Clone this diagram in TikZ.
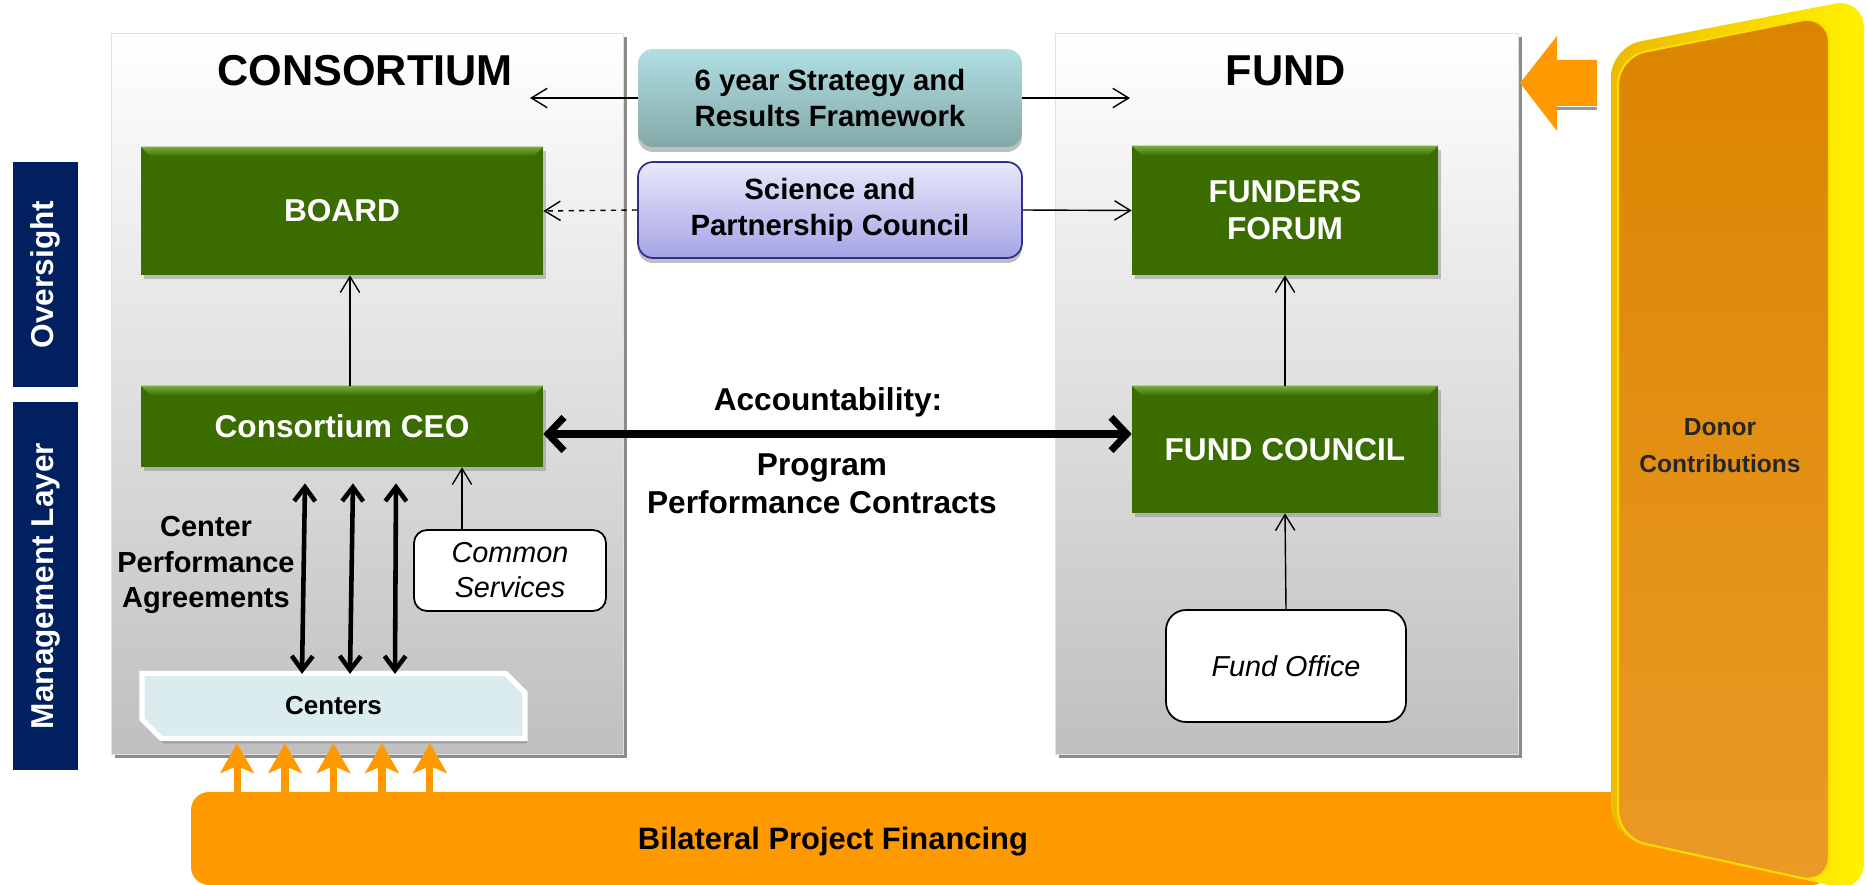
\documentclass[tikz,border=0pt]{standalone}
\usepackage{fontspec}
\setmainfont{Liberation Sans}
\usetikzlibrary{arrows.meta,shapes.misc,shadows}

\definecolor{boardgreen}{RGB}{58,108,0}
\definecolor{bevelgreen}{RGB}{122,172,62}
\definecolor{navyband}{RGB}{0,32,96}
\definecolor{flow}{RGB}{255,153,0}
\definecolor{stratTop}{RGB}{176,223,227}
\definecolor{stratBot}{RGB}{132,168,168}
\definecolor{sciTop}{RGB}{232,232,250}
\definecolor{sciBot}{RGB}{166,164,230}
\definecolor{sciLine}{RGB}{46,49,146}
\definecolor{centerfill}{RGB}{218,236,238}
\definecolor{faceTop}{RGB}{219,132,0}
\definecolor{faceBot}{RGB}{234,154,38}
\definecolor{rimgold}{RGB}{236,186,0}
\definecolor{rimyellow}{RGB}{255,242,0}

\tikzset{
  greenbox/.style={rectangle,fill=boardgreen,text=white,align=center,inner sep=0pt,
    font=\bfseries\fontsize{18}{21}\selectfont,
    drop shadow={shadow xshift=0.06cm,shadow yshift=-0.08cm,opacity=0.45}},
  band/.style={rectangle,fill=navyband,text=white,rotate=90,inner sep=0pt,
    minimum height=1.3cm,font=\bfseries\fontsize{18}{21}\selectfont},
  roundbox/.style={rectangle,rounded corners=0.3cm,align=center,inner sep=0pt,
    minimum width=7.68cm,font=\bfseries\fontsize{16.7}{20.5}\selectfont,
    drop shadow={shadow xshift=0cm,shadow yshift=-0.1cm,opacity=0.5}},
  italbox/.style={rectangle,draw=black,line width=1pt,fill=white,align=center,
    inner sep=0pt,font=\itshape\fontsize{16.4}{20}\selectfont},
  title/.style={font=\bfseries\fontsize{24.6}{28}\selectfont},
  plaintext/.style={align=center,inner sep=0pt,font=\bfseries\fontsize{18}{21.6}\selectfont},
  panelbox/.style={top color=white,middle color=black!5,bottom color=black!25,draw=black!12},
  thinarr/.style={-{Straight Barb[length=9pt,width=11pt]},line width=0.8pt},
  thickarr/.style={{Straight Barb[length=9pt,width=19pt]}-{Straight Barb[length=9pt,width=19pt]},
    line width=4pt},
  dblarr/.style={{Straight Barb[length=8pt,width=12pt]}-{Straight Barb[length=8pt,width=12pt]},
    line width=2.6pt},
  feedarr/.style={-{Stealth[length=17pt,width=19pt,inset=4pt]},draw=flow,line width=4pt},
}

\begin{document}
\begin{tikzpicture}[x=0.02cm,y=-0.02cm]
  \useasboundingbox (0,0) rectangle (1867,885);

  \fill[black!45] (115,37) rectangle (627,758);
  \shade[panelbox] (111,33) rectangle (623,754);
  \fill[black!45] (1059,37) rectangle (1522,758);
  \shade[panelbox] (1055,33) rectangle (1518,754);

  \node[band,minimum width=4.5cm] (over) at (45.5,274.5) {Oversight};
  \node[band,minimum width=7.36cm] (mgmt) at (45.5,586) {Management Layer};

  \coordinate (bartop) at (191,792);
  \fill[flow,rounded corners=0.36cm] (1830,792) -- (191,792) -- (191,885) -- (1830,885) [sharp corners] -- cycle;
  \node[plaintext,font=\bfseries\fontsize{17.6}{21}\selectfont] (bpf) at (833,842) {Bilateral Project Financing};

  \node[title] (ctitle) at (365,71) {CONSORTIUM};
  \node[title] (ftitle) at (1286,71) {FUND};

  \node[roundbox,minimum height=1.96cm,top color=stratTop,bottom color=stratBot]
    (strat) at (830,98) {6 year Strategy and\\Results Framework};
  \node[roundbox,minimum height=1.92cm,top color=sciTop,bottom color=sciBot,draw=sciLine,line width=1pt]
    (sci) at (830,210) {Science and\\Partnership Council};

  \node[greenbox,minimum width=8.04cm,minimum height=2.56cm] (board) at (342,211) {BOARD};
  \node[greenbox,minimum width=6.12cm,minimum height=2.58cm] (forum) at (1285,210.5) {FUNDERS\\FORUM};
  \node[greenbox,minimum width=8.04cm,minimum height=1.62cm] (ceo) at (342,426.5) {Consortium CEO};
  \node[greenbox,minimum width=6.12cm,minimum height=2.54cm] (council) at (1285,449.5) {FUND COUNCIL};
  \foreach \n in {board,forum,ceo,council}
    \shade[top color=bevelgreen,bottom color=boardgreen] (\n.north west) -- (\n.north east)
      -- ([xshift=-0.2cm,yshift=-0.2cm]\n.north east) -- ([xshift=0.2cm,yshift=-0.2cm]\n.north west) -- cycle;

  \node[italbox,rounded corners=0.26cm,minimum width=3.84cm,minimum height=1.62cm]
    (cs) at (510,570.5) {Common\\Services};
  \node[italbox,rounded corners=0.4cm,minimum width=4.8cm,minimum height=2.24cm]
    (fo) at (1286,666) {Fund Office};

  \node[chamfered rectangle,chamfered rectangle corners={north east,south west},
    chamfered rectangle xsep=0.2cm,chamfered rectangle ysep=0.2cm,
    fill=centerfill,draw=white,line width=3pt,minimum width=7.66cm,minimum height=1.3cm,inner sep=0pt,
    drop shadow={shadow xshift=0.04cm,shadow yshift=-0.1cm,opacity=0.5},
    font=\bfseries\fontsize{14.8}{18}\selectfont] (centers) at (333.5,706) {Centers};

  \node[plaintext,font=\bfseries\fontsize{16.5}{20}\selectfont] (cpa) at (206,565)
    {Center\\Performance\\Agreements};
  \node[plaintext] (acct) at (828,402) {Accountability:};
  \node[plaintext] (ppc) at (822,484) {Program\\Performance Contracts};

  \coordinate (stratL) at (530,98);
  \coordinate (stratR) at (1130,98);
  \draw[thinarr] (strat.west) -- (stratL);
  \draw[thinarr] (strat.east) -- (stratR);
  \draw[thinarr,dashed] (sci.west) -- (board.east);
  \draw[thinarr] (sci.east) -- (forum.west);

  \coordinate (bup) at ([xshift=0.16cm]ceo.north);
  \draw[thinarr] (bup) -- (bup |- board.south);
  \draw[thinarr] (council.north) -- (forum.south);
  \draw[thinarr] (fo.north) -- (council.south);
  \coordinate (csup) at ([xshift=-0.96cm]cs.north);
  \draw[thinarr] (csup) -- (csup |- ceo.south);

  \coordinate (acc) at (700,434);
  \draw[thickarr] (ceo.east |- acc) -- (council.west |- acc);

  \foreach \a/\b in {-0.74/-0.63,0.22/0.33,1.08/1.23}
    \draw[dblarr] ([xshift=\a cm,yshift=-0.32cm]ceo.south) -- ([xshift=\b cm,yshift=-0.06cm]centers.north);

  \foreach \o in {-1.93,-0.97,0,0.97,1.93}{
    \coordinate (ft) at ([xshift=\o cm,yshift=-0.04cm]centers.south);
    \draw[feedarr] (ft |- bartop) -- (ft);
  }

  \shade[left color=rimgold,right color=rimyellow,rounded corners=0.6cm]
    (1611,47) -- (1864,-2) -- (1864,893) -- (1611,836) -- cycle;
  \shade[top color=faceTop,bottom color=faceBot,rounded corners=0.55cm]
    (1618,57) -- (1829,15) -- (1829,884) -- (1618,838) -- cycle;
  \draw[rimyellow!80!orange,line width=1.2pt,rounded corners=0.55cm]
    (1618,57) -- (1829,15) -- (1829,884) -- (1618,838) -- cycle;
  \node[align=center,font=\bfseries\fontsize{14}{21}\selectfont,text=black!85] (donor) at (1720,446)
    {Donor\\Contributions};

  \fill[black!40] (1557,107) -- (1597,107) -- (1597,110) -- (1557,110) -- cycle;
  \fill[flow] (1520,83) -- (1557,36) -- (1557,60) -- (1597,60) -- (1597,106) -- (1557,106)
    -- (1557,131) -- cycle;
\end{tikzpicture}
\end{document}
